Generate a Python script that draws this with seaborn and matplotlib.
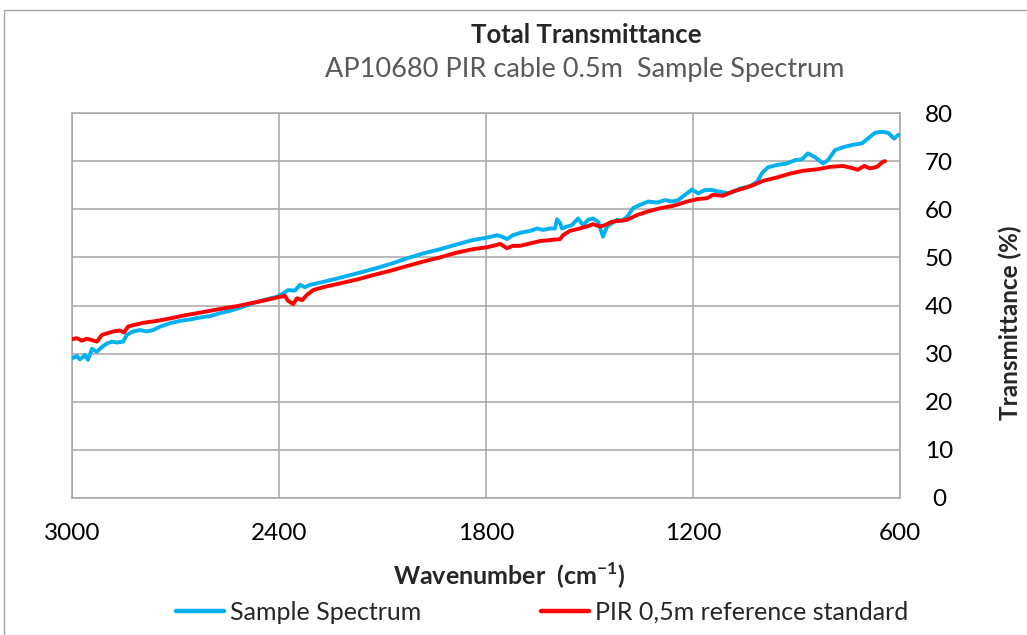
import numpy as np
import pandas as pd
import matplotlib
matplotlib.use("Agg")
import matplotlib.pyplot as plt
import seaborn as sns
from matplotlib.patches import Rectangle

# ---- data ----
sample_wn = [3000, 2986, 2977, 2962, 2954, 2942, 2928, 2913, 2899, 2884, 2870, 2852, 2841, 2823,
             2803, 2783, 2765, 2745, 2716, 2687, 2658, 2629, 2600, 2571, 2542, 2513, 2484, 2446,
             2406, 2388, 2374, 2354, 2339, 2325, 2310, 2272, 2232, 2194, 2157, 2116, 2078, 2029,
             1983, 1933, 1884, 1838, 1797, 1768, 1754, 1739, 1722, 1701, 1672, 1652, 1635, 1614,
             1600, 1594, 1585, 1580, 1565, 1551, 1533, 1519, 1504, 1490, 1475, 1461, 1449, 1435,
             1420, 1406, 1391, 1374, 1354, 1330, 1304, 1281, 1261, 1243, 1223, 1203, 1185, 1165,
             1145, 1127, 1093, 1064, 1035, 1014, 1000, 983, 957, 928, 904, 884, 867, 846, 823,
             809, 788, 765, 736, 710, 693, 672, 652, 635, 617, 606, 600]
sample_t = [29.0, 29.5, 28.8, 29.7, 28.7, 31.0, 30.4, 31.4, 32.1, 32.5, 32.3, 32.5, 33.9, 34.6,
            34.9, 34.6, 34.9, 35.6, 36.3, 36.8, 37.1, 37.5, 37.8, 38.4, 38.9, 39.5, 40.3, 41.1,
            41.8, 42.5, 43.2, 43.1, 44.3, 43.8, 44.3, 44.9, 45.6, 46.3, 47.0, 47.8, 48.6, 49.8,
            50.8, 51.7, 52.7, 53.6, 54.1, 54.6, 54.3, 53.8, 54.6, 55.1, 55.5, 56.0, 55.7, 56.0,
            56.0, 57.9, 57.1, 56.0, 56.4, 56.7, 58.1, 56.7, 57.8, 58.1, 57.4, 54.3, 56.4, 57.1,
            57.8, 57.6, 58.4, 60.2, 60.9, 61.6, 61.4, 61.9, 61.6, 61.9, 63.0, 64.1, 63.3, 64.0,
            64.0, 63.7, 63.3, 64.3, 64.8, 65.7, 67.5, 68.7, 69.2, 69.5, 70.2, 70.4, 71.6, 70.8, 69.5,
            70.2, 72.3, 72.9, 73.4, 73.7, 74.7, 75.9, 76.1, 75.9, 74.7, 75.4, 75.5]

ref_wn = [3000, 2986, 2971, 2957, 2942, 2928, 2913, 2899, 2881, 2861, 2849, 2838, 2823, 2794,
          2754, 2716, 2678, 2638, 2600, 2562, 2519, 2493, 2446, 2397, 2383, 2374, 2359, 2348,
          2333, 2319, 2301, 2272, 2223, 2174, 2128, 2078, 2029, 1983, 1933, 1884, 1838, 1797,
          1768, 1759, 1739, 1722, 1701, 1672, 1643, 1614, 1585, 1577, 1557, 1528, 1504, 1490,
          1470, 1455, 1435, 1412, 1391, 1362, 1333, 1296, 1258, 1217, 1188, 1159, 1142, 1113,
          1084, 1055, 1026, 997, 957, 919, 881, 840, 803, 765, 736, 722, 704, 687, 667, 649, 643]
ref_t = [33.0, 33.2, 32.7, 33.1, 32.8, 32.5, 33.9, 34.2, 34.6, 34.8, 34.4, 35.6, 35.9, 36.4,
         36.8, 37.3, 37.9, 38.4, 38.9, 39.4, 39.9, 40.3, 41.0, 41.8, 42.0, 41.0, 40.3, 41.5,
         41.1, 42.2, 43.2, 43.8, 44.6, 45.4, 46.3, 47.2, 48.2, 49.1, 50.0, 51.0, 51.7, 52.1,
         52.6, 52.8, 51.9, 52.4, 52.4, 52.9, 53.4, 53.6, 53.8, 54.6, 55.5, 56.0, 56.5, 56.9,
         56.4, 56.7, 57.4, 57.6, 57.8, 58.8, 59.5, 60.2, 60.7, 61.6, 62.1, 62.3, 63.0, 62.8,
         63.7, 64.3, 65.0, 65.9, 66.6, 67.4, 68.0, 68.3, 68.8, 69.0, 68.5, 68.2, 69.0, 68.5,
         68.8, 69.9, 70.0]

x_ticks = [3000, 2400, 1800, 1200, 600]
y_ticks = [0, 10, 20, 30, 40, 50, 60, 70, 80]
series_names = ["Sample Spectrum", "PIR 0,5m reference standard"]
title = "Total Transmittance"
subtitle = "AP10680 PIR cable 0.5m  Sample Spectrum"

# ---- styling ----
sns.set_theme(style="white")
plt.rcParams["font.family"] = ["Lato", "DejaVu Sans"]
plt.rcParams["mathtext.fontset"] = "custom"
plt.rcParams["mathtext.rm"] = "Lato"
plt.rcParams["mathtext.bf"] = "Lato:bold"

W, H = 1027, 635
fig = plt.figure(figsize=(W / 100, H / 100), dpi=100)
L, R, T, B = 72, 900, 113, 498
ax = fig.add_axes([L / W, 1 - B / H, (R - L) / W, (B - T) / H])

df = pd.concat([
    pd.DataFrame({"wn": sample_wn, "T": sample_t, "series": series_names[0]}),
    pd.DataFrame({"wn": ref_wn, "T": ref_t, "series": series_names[1]}),
])
palette = {series_names[0]: "#00B0F0", series_names[1]: "#FF0000"}
sns.lineplot(data=df, x="wn", y="T", hue="series", palette=palette, ax=ax,
             linewidth=2.8, sort=False, legend=False, zorder=3)

grid_c = "#a6a6a6"
ax.set_xlim(3000, 600)
ax.set_ylim(0, 80)
ax.set_xticks(x_ticks)
ax.set_yticks(y_ticks)
ax.grid(True, color=grid_c, linewidth=1.1)
ax.set_axisbelow(True)
for s in ax.spines.values():
    s.set_visible(True)
    s.set_color(grid_c)
    s.set_linewidth(1.1)
ax.yaxis.tick_right()
ax.tick_params(axis="both", length=0, labelsize=17.5, colors="#000000")
ax.tick_params(axis="x", pad=18)
ax.tick_params(axis="y", pad=28)
for lab in ax.get_yticklabels():
    lab.set_ha("center")
ax.set_xlabel("")
ax.set_ylabel("")

fig.text(586 / W, 1 - 35 / H, title, ha="center", va="center", fontsize=18.5, fontweight="bold")
fig.text(585 / W, 1 - 70 / H, subtitle, ha="center", va="center", fontsize=19.5, color="#595959")
fig.text(509 / W, 1 - 576 / H, r"Wavenumber  (cm$^{\mathbf{-1}}$)", ha="center", va="center",
         fontsize=18, fontweight="bold")
fig.text(1010 / W, 1 - 323 / H, "Transmittance (%)", ha="center", va="center", rotation=90,
         fontsize=17.5, fontweight="bold")

handles = [plt.Line2D([], [], color=palette[n], linewidth=3.2) for n in series_names]
fig.legend(handles, series_names, loc="center", bbox_to_anchor=(542 / W, 1 - 612 / H), ncol=2,
           frameon=False, fontsize=18, handlelength=1.9, handletextpad=0.25, columnspacing=4.8)

fig.patches.append(Rectangle((4 / W, -0.5), 2.0, 1.5 - 10 / H, transform=fig.transFigure,
                             fill=False, edgecolor="#a6a6a6", linewidth=1.0))

fig.savefig("out.png", dpi=100)
